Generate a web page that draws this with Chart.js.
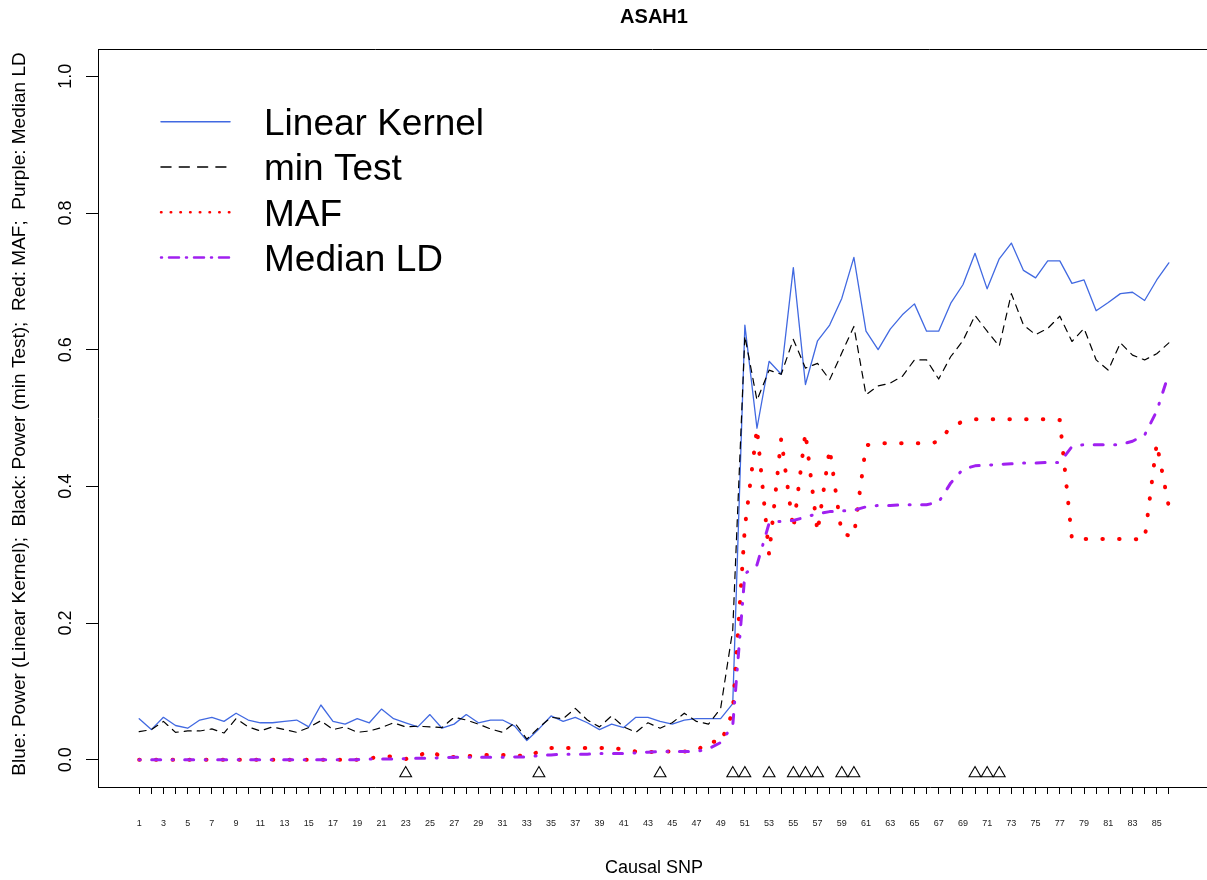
<!DOCTYPE html>
<html>
<head>
<meta charset="utf-8">
<title>ASAH1</title>
<script src="https://cdn.jsdelivr.net/npm/chart.js@4.4.1/dist/chart.umd.min.js"></script>
<style>
  html, body { margin: 0; padding: 0; background: #fff; overflow: hidden; }
  canvas { display: block; }
</style>
</head>
<body>
<canvas id="myChart" width="1207" height="880"></canvas>
<script>
// Causal SNP index (x axis)
const snps = [1, 2, 3, 4, 5, 6, 7, 8, 9, 10, 11, 12, 13, 14, 15, 16, 17, 18, 19, 20,
  21, 22, 23, 24, 25, 26, 27, 28, 29, 30, 31, 32, 33, 34, 35, 36, 37, 38, 39, 40,
  41, 42, 43, 44, 45, 46, 47, 48, 49, 50, 51, 52, 53, 54, 55, 56, 57, 58, 59, 60,
  61, 62, 63, 64, 65, 66, 67, 68, 69, 70, 71, 72, 73, 74, 75, 76, 77, 78, 79, 80,
  81, 82, 83, 84, 85, 86];

// Blue: power of the linear kernel test
const linearKernel = [0.060, 0.044, 0.062, 0.050, 0.046, 0.058, 0.062, 0.056, 0.068, 0.058,
  0.054, 0.054, 0.056, 0.058, 0.048, 0.080, 0.056, 0.052, 0.060, 0.054,
  0.074, 0.060, 0.054, 0.048, 0.066, 0.046, 0.052, 0.066, 0.054, 0.058,
  0.058, 0.049, 0.028, 0.045, 0.064, 0.056, 0.062, 0.054, 0.044, 0.052,
  0.047, 0.062, 0.062, 0.056, 0.052, 0.058, 0.060, 0.060, 0.060, 0.082,
  0.636, 0.485, 0.583, 0.564, 0.720, 0.549, 0.613, 0.636, 0.675, 0.735,
  0.627, 0.600, 0.630, 0.651, 0.667, 0.627, 0.627, 0.668, 0.695, 0.741,
  0.689, 0.733, 0.756, 0.716, 0.705, 0.730, 0.730, 0.697, 0.702, 0.657,
  0.669, 0.682, 0.684, 0.672, 0.702, 0.727];

// Black: power of the min test
const minTest = [0.041, 0.044, 0.056, 0.040, 0.042, 0.042, 0.045, 0.039, 0.060, 0.048,
  0.042, 0.048, 0.044, 0.040, 0.047, 0.057, 0.044, 0.048, 0.040, 0.042,
  0.047, 0.054, 0.048, 0.049, 0.048, 0.047, 0.062, 0.058, 0.052, 0.045,
  0.040, 0.054, 0.030, 0.047, 0.062, 0.060, 0.075, 0.058, 0.048, 0.064,
  0.048, 0.040, 0.054, 0.046, 0.054, 0.068, 0.056, 0.052, 0.075, 0.190,
  0.620, 0.526, 0.570, 0.564, 0.615, 0.573, 0.580, 0.556, 0.595, 0.634,
  0.534, 0.547, 0.551, 0.561, 0.585, 0.585, 0.557, 0.590, 0.613, 0.650,
  0.627, 0.605, 0.682, 0.636, 0.622, 0.631, 0.649, 0.612, 0.631, 0.585,
  0.570, 0.610, 0.592, 0.585, 0.594, 0.610];

// Red: MAF of the causal SNP
const maf = [0, 0, 0, 0, 0, 0, 0, 0, 0, 0,
  0, 0, 0, 0, 0, 0, 0, 0, 0, 0.002,
  0.004, 0.005, 0.001, 0.005, 0.013, 0.004, 0.004, 0.005, 0.006, 0.007,
  0.007, 0.007, 0.004, 0.012, 0.017, 0.017, 0.017, 0.017, 0.017, 0.017,
  0.015, 0.012, 0.011, 0.012, 0.012, 0.012, 0.012, 0.028, 0.024, 0.070,
  0.340, 0.485, 0.300, 0.470, 0.337, 0.479, 0.333, 0.455, 0.330, 0.327,
  0.460, 0.463, 0.463, 0.463, 0.463, 0.463, 0.465, 0.487, 0.495, 0.498,
  0.498, 0.498, 0.498, 0.498, 0.498, 0.498, 0.497, 0.323, 0.323, 0.323,
  0.323, 0.323, 0.323, 0.322, 0.463, 0.370];

// Purple: median LD
const medianLD = [0, 0, 0, 0, 0, 0, 0, 0, 0, 0,
  0, 0, 0, 0, 0, 0, 0, 0, 0, 0.001,
  0.001, 0.001, 0.0015, 0.002, 0.002, 0.003, 0.0035, 0.0035, 0.0035, 0.0035,
  0.0035, 0.004, 0.004, 0.006, 0.007, 0.008, 0.008, 0.008, 0.009, 0.009,
  0.009, 0.010, 0.011, 0.012, 0.012, 0.012, 0.012, 0.016, 0.025, 0.050,
  0.272, 0.285, 0.346, 0.349, 0.350, 0.355, 0.360, 0.363, 0.364, 0.365,
  0.370, 0.372, 0.372, 0.373, 0.373, 0.373, 0.377, 0.405, 0.425, 0.430,
  0.431, 0.432, 0.433, 0.434, 0.434, 0.435, 0.435, 0.458, 0.461, 0.461,
  0.461, 0.461, 0.466, 0.475, 0.510, 0.565];

// SNPs flagged with a triangle under the curves, and the level they sit at
const flaggedSnps = [23, 34, 44, 50, 51, 53, 55, 56, 57, 59, 60, 70, 71, 72];
const flagLevel = -0.02;

// Axis ticks
const yTicks = [0, 0.2, 0.4, 0.6, 0.8, 1.0];
const yTickLabels = ['0.0', '0.2', '0.4', '0.6', '0.8', '1.0'];

const FONT = '"Liberation Sans", Arial, Helvetica, sans-serif';

function series(values) {
  return snps.map((s, i) => ({ x: s, y: values[i] }));
}

const blueStyle = { borderColor: '#4169E1', borderWidth: 1.3, borderDash: [] };
const blackStyle = { borderColor: '#000000', borderWidth: 1.2, borderDash: [7, 6] };
const redStyle = { borderColor: '#FF0000', borderWidth: 4, borderDash: [0.5, 16.2] };
const purpleStyle = { borderColor: '#A020F0', borderWidth: 3, borderDash: [1, 11.5, 9, 11.5] };

// legend entries (drawn by hand inside the plot, like R's legend())
const legendItems = [
  { text: 'Linear Kernel', color: '#4169E1', width: 1.5, dash: [] },
  { text: 'min Test', color: '#000000', width: 1.5, dash: [10, 8.3] },
  { text: 'MAF', color: '#FF0000', width: 2.5, dash: [0.5, 9.2] },
  { text: 'Median LD', color: '#A020F0', width: 2.5, dash: [1, 7, 10, 7] }
];

const rDecorations = {
  id: 'rDecorations',
  afterDraw(chart) {
    const ctx = chart.ctx;
    const area = chart.chartArea;
    const yScale = chart.scales.y;
    ctx.save();

    // top edge of the box
    ctx.strokeStyle = '#000';
    ctx.lineWidth = 1;
    ctx.beginPath();
    ctx.moveTo(area.left, Math.round(area.top) + 0.5);
    ctx.lineTo(area.right, Math.round(area.top) + 0.5);
    ctx.stroke();

    // y tick labels, vertical like R's default las = 0
    ctx.fillStyle = '#000';
    ctx.font = '18px ' + FONT;
    ctx.textAlign = 'center';
    ctx.textBaseline = 'alphabetic';
    yTicks.forEach((v, i) => {
      const py = yScale.getPixelForValue(v);
      ctx.save();
      ctx.translate(71, py);
      ctx.rotate(-Math.PI / 2);
      ctx.fillText(yTickLabels[i], 0, 0);
      ctx.restore();
    });

    // y axis title
    ctx.save();
    ctx.translate(25, (area.top + area.bottom) / 2 - 4);
    ctx.rotate(-Math.PI / 2);
    ctx.font = '19px ' + FONT;
    ctx.fillText('Blue: Power (Linear Kernel);  Black: Power (min Test);  Red: MAF;  Purple: Median LD', 0, 0);
    ctx.restore();

    // x axis title
    const cx = (area.left + 1210) / 2;
    ctx.font = '18px ' + FONT;
    ctx.fillText('Causal SNP', cx, 872.5);

    // main title
    ctx.font = 'bold 20px ' + FONT;
    ctx.fillText('ASAH1', cx, 23);

    // legend
    ctx.textAlign = 'left';
    ctx.font = '37px ' + FONT;
    legendItems.forEach((item, i) => {
      const ly = 121.7 + i * 45.3;
      ctx.save();
      ctx.strokeStyle = item.color;
      ctx.lineWidth = item.width;
      ctx.lineCap = 'round';
      ctx.setLineDash(item.dash);
      ctx.beginPath();
      ctx.moveTo(161, ly);
      ctx.lineTo(230, ly);
      ctx.stroke();
      ctx.restore();
      ctx.fillStyle = '#000';
      ctx.fillText(item.text, 264, ly + 13.3);
    });

    ctx.restore();
  }
};

const ctx = document.getElementById('myChart').getContext('2d');

const lineDefaults = {
  fill: false,
  tension: 0,
  pointRadius: 0,
  pointHoverRadius: 0,
  borderCapStyle: 'round',
  borderJoinStyle: 'round'
};

const myChart = new Chart(ctx, {
  type: 'line',
  data: {
    datasets: [
      Object.assign({ label: 'Median LD', data: series(medianLD) }, lineDefaults, purpleStyle),
      Object.assign({ label: 'MAF', data: series(maf) }, lineDefaults, redStyle),
      Object.assign({ label: 'min Test', data: series(minTest) }, lineDefaults, blackStyle),
      Object.assign({ label: 'Linear Kernel', data: series(linearKernel) }, lineDefaults, blueStyle),
      {
        label: 'flagged',
        data: flaggedSnps.map(s => ({ x: s, y: flagLevel })),
        showLine: false,
        pointStyle: 'triangle',
        pointRadius: 6.8,
        pointHoverRadius: 6.8,
        pointBorderWidth: 1.1,
        pointBorderColor: '#000',
        pointBackgroundColor: 'rgba(0,0,0,0)'
      }
    ]
  },
  options: {
    responsive: false,
    animation: false,
    devicePixelRatio: 1,
    layout: { autoPadding: false, padding: { top: 49, left: 0, right: 0, bottom: 0 } },
    plugins: {
      legend: { display: false },
      title: { display: false },
      tooltip: { enabled: false }
    },
    events: [],
    scales: {
      x: {
        type: 'linear',
        min: -2.4,
        max: 89.15,
        afterFit: scale => { scale.height = 93; },
        afterBuildTicks: scale => { scale.ticks = snps.map(v => ({ value: v })); },
        grid: {
          drawOnChartArea: false,
          drawTicks: true,
          tickLength: 7,
          color: '#000',
          lineWidth: 1
        },
        border: { display: true, color: '#000', width: 1 },
        ticks: {
          autoSkip: false,
          maxRotation: 0,
          minRotation: 0,
          padding: 24,
          color: '#222',
          font: { family: FONT, size: 9 },
          callback: v => (v % 2 === 1 ? String(v) : '')
        }
      },
      y: {
        type: 'linear',
        min: -0.04,
        max: 1.04,
        afterFit: scale => { scale.width = 98; },
        afterBuildTicks: scale => { scale.ticks = yTicks.map(v => ({ value: v })); },
        grid: {
          drawOnChartArea: false,
          drawTicks: true,
          tickLength: 12,
          color: '#000',
          lineWidth: 1
        },
        border: { display: true, color: '#000', width: 1 },
        ticks: { display: false }
      }
    }
  },
  plugins: [rDecorations]
});
</script>
</body>
</html>
